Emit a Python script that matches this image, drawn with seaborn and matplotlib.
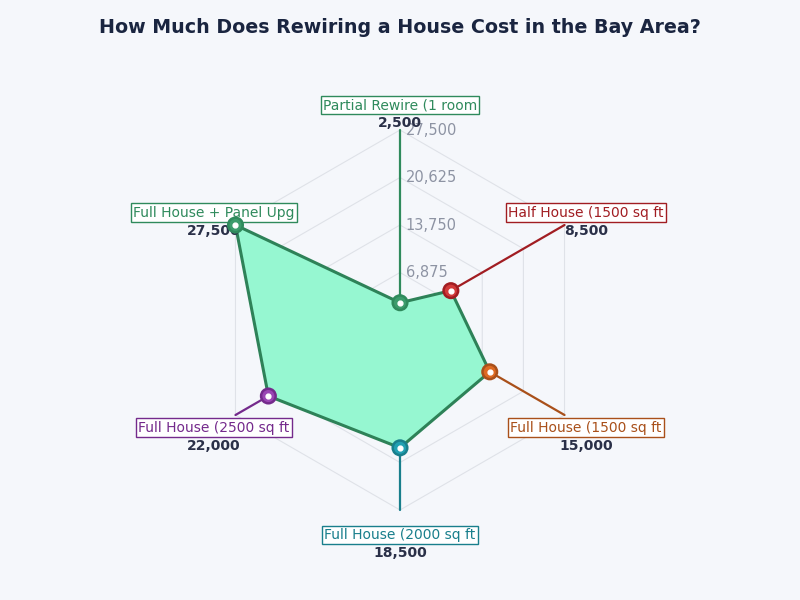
import numpy as np
import pandas as pd
import seaborn as sns
import matplotlib.pyplot as plt

# data
categories = ['Partial Rewire (1 room', 'Half House (1500 sq ft', 'Full House (1500 sq ft',
              'Full House (2000 sq ft', 'Full House (2500 sq ft', 'Full House + Panel Upg']
costs = [2500, 8500, 15000, 18500, 22000, 27500]
radial_ticks = [6875, 13750, 20625, 27500]
dark_colors = ['#2f8a5c', '#a11d22', '#a9501a', '#197f8c', '#742a8c', '#2f8a5c']
marker_colors = ['#3c9c6c', '#d23a3a', '#de6a22', '#21a0b2', '#9a46b4', '#3c9c6c']

bg = '#f5f7fb'
rmax = radial_ticks[-1]

sns.set_theme(style='white')
plt.rcParams['font.family'] = ['DejaVu Sans']

fig = plt.figure(figsize=(8, 6), dpi=100, facecolor=bg)
ax = fig.add_axes([0.2625, 0.15, 0.475, 0.6333], projection='polar')
ax.set_facecolor(bg)
ax.set_theta_offset(np.pi / 2)
ax.set_theta_direction(-1)
ax.set_ylim(0, rmax)

n = len(categories)
angles = np.linspace(0, 2 * np.pi, n, endpoint=False)
df = pd.DataFrame({'category': categories, 'cost': costs, 'angle': angles})

# hexagon grid
closed = np.append(angles, angles[0])
for t in radial_ticks:
    ax.plot(closed, [t] * (n + 1), color='#dfe2e8', lw=0.8, zorder=1, clip_on=False)

# category spokes
for a, c in zip(angles, dark_colors):
    ax.plot([a, a], [0, rmax], color=c, lw=1.6, zorder=2, clip_on=False)

# filled shape
vals = np.append(df['cost'].values, df['cost'].values[0])
ax.fill(closed, vals, color='#96f7d1', zorder=3, clip_on=False)
ax.plot(closed, vals, color='#2e8258', lw=2.2, zorder=4, clip_on=False)

# radial tick labels
for t in radial_ticks:
    ax.annotate(f'{t:,}', xy=(0, t), xytext=(4, 0), textcoords='offset points',
                ha='left', va='center', fontsize=10.5, color='#8d93a3', zorder=4.2,
                annotation_clip=False)

# category labels
label_r = rmax * 215 / 190
for a, cat, val, c in zip(angles, categories, costs, dark_colors):
    ax.text(a, label_r, cat, ha='center', va='center', fontsize=10, color=c, zorder=4.5,
            bbox=dict(boxstyle='square,pad=0.15', facecolor='white', edgecolor=c, lw=1))
    ax.annotate(f'{val:,}', xy=(a, label_r), xytext=(0, -13), textcoords='offset points',
                ha='center', va='center', fontsize=10, fontweight='bold', color='#2a3048',
                zorder=4.6, annotation_clip=False)

# markers
sns.scatterplot(data=df, x='angle', y='cost', hue='category', palette=marker_colors,
                s=110, linewidth=1.8, edgecolor=dark_colors, legend=False, ax=ax,
                zorder=5, clip_on=False)
ax.scatter(df['angle'], df['cost'], s=12, color='white', zorder=6, clip_on=False)

ax.grid(False)
ax.spines['polar'].set_visible(False)
ax.set_xticks([])
ax.set_yticks([])
ax.set_xlabel('')
ax.set_ylabel('')

fig.suptitle('How Much Does Rewiring a House Cost in the Bay Area?', y=0.97,
             fontsize=13.7, fontweight='bold', color='#1a2540')

fig.savefig('out.png', dpi=100, facecolor=bg)
